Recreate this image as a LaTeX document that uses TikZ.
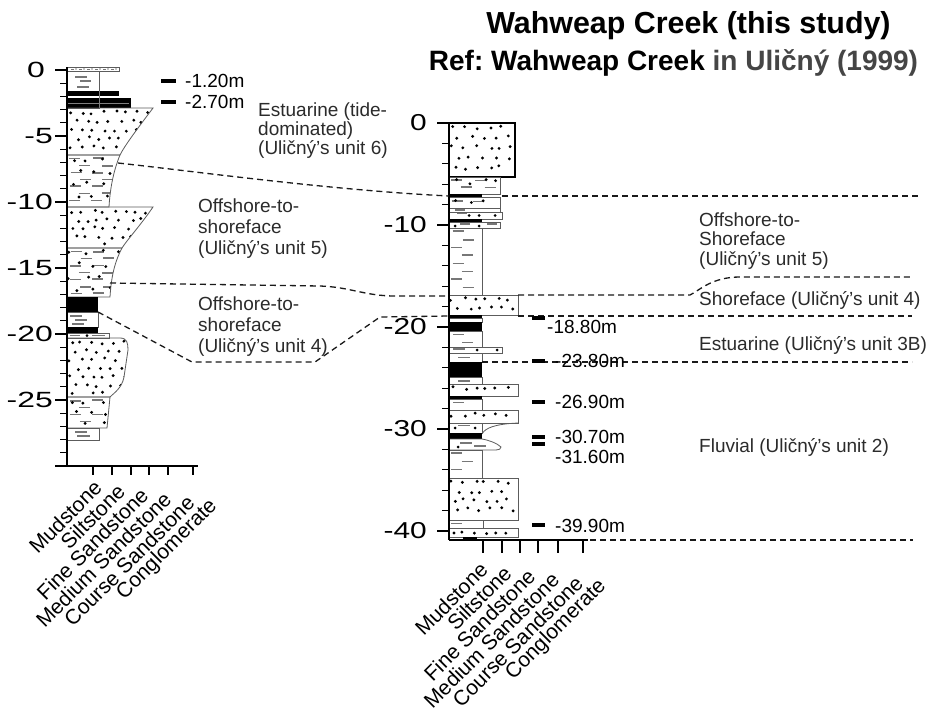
\documentclass[tikz,border=0pt]{standalone}
\usepackage{fontspec}
\setmainfont{Liberation Sans}
\usetikzlibrary{calc}
\frenchspacing

\definecolor{ink}{HTML}{1A1A1A}
\definecolor{edge}{HTML}{5C5C5C}
\definecolor{siltgray}{HTML}{777777}
\definecolor{labelgray}{HTML}{2B2B2B}
\definecolor{refgray}{HTML}{454545}

\tikzset{
  box/.style={draw=edge, line width=0.8pt},
  siltline/.style={draw=siltgray, line width=1.3pt},
  corr/.style={draw=ink, line width=1.3pt, dash pattern=on 6pt off 4pt},
  axisline/.style={draw=black, line width=1.3pt},
  marker/.style={draw=black, line width=3.2pt},
  unitlabel/.style={anchor=base west, inner sep=0pt, text=labelgray, font=\fontsize{19}{21}\selectfont},
  depthlabel/.style={anchor=base west, inner sep=0pt, text=black, font=\fontsize{19}{21}\selectfont},
  grain/.style={anchor=east, rotate=45, inner sep=0pt, text=black, font=\fontsize{21}{23}\selectfont},
  numleft/.style={inner sep=0pt, font=\fontsize{22}{24}\selectfont},
  numright/.style={inner sep=0pt, anchor=east, font=\fontsize{23}{25}\selectfont},
  titletext/.style={anchor=base, inner sep=0pt, font=\bfseries\fontsize{28}{32}\selectfont},
}

% jittered grid of sand grains inside x1 y1 x2 y2, spacing dx dy
\newcommand{\dotsin}[6]{%
  \pgfmathtruncatemacro\lnx{(#3-#1)/#5}%
  \pgfmathtruncatemacro\lny{(#4-#2)/#6}%
  \foreach \i in {0,...,\lnx}{\foreach \j in {0,...,\lny}{%
    \pgfmathsetmacro\lpx{#1+4+#5*\i+0.5*#5*mod(\j,2)+0.25*#5*rand}%
    \pgfmathsetmacro\lpy{#2+4.5+#6*\j+0.2*#6*rand}%
    \pgfmathtruncatemacro\lok{and(\lpx<#3-3,\lpy<#4-3)}%
    \ifnum\lok=1 \fill[black] (\lpx,\lpy) circle (1.6pt);\fi
  }}}

% short grey silt dashes inside x1 y1 x2 y2, spacing dx dy
\newcommand{\dashesin}[6]{%
  \pgfmathtruncatemacro\lnx{(#3-#1)/#5}%
  \pgfmathtruncatemacro\lny{(#4-#2)/#6}%
  \foreach \i in {0,...,\lnx}{\foreach \j in {0,...,\lny}{%
    \pgfmathsetmacro\lpx{#1+3+#5*\i+0.45*#5*mod(\j,2)+1.5*rand}%
    \pgfmathsetmacro\lpy{#2+3.5+#6*\j+0.6*rand}%
    \pgfmathtruncatemacro\lok{and(\lpx+10<#3-2,\lpy<#4-2.5)}%
    \ifnum\lok=1 \draw[siltline] (\lpx,\lpy) -- ++(11,0);\fi
  }}}

% rectangular beds
\newcommand{\bedsand}[4]{%
  \begin{scope}\clip (#1,#2) rectangle (#3,#4);\dotsin{#1}{#2}{#3}{#4}{11}{9}\end{scope}%
  \draw[box] (#1,#2) rectangle (#3,#4);}
\newcommand{\bedsilt}[4]{%
  \begin{scope}\clip (#1,#2) rectangle (#3,#4);\dashesin{#1}{#2}{#3}{#4}{22}{8}\end{scope}%
  \draw[box] (#1,#2) rectangle (#3,#4);}
\newcommand{\bedmix}[4]{%
  \begin{scope}\clip (#1,#2) rectangle (#3,#4);\dashesin{#1}{#2}{#3}{#4}{22}{7}\dotsin{#1}{#2}{#3}{#4}{15}{12}\end{scope}%
  \draw[box] (#1,#2) rectangle (#3,#4);}
\newcommand{\bedmud}[4]{\fill[black] (#1,#2) rectangle (#3,#4);}

\begin{document}
\begin{tikzpicture}[x=1pt,y=-1pt]
\useasboundingbox (0,0) rectangle (932,720);
\fill[white] (0,0) rectangle (932,720);
\pgfmathsetseed{7}

% ---------- titles ----------
\node[titletext, font=\bfseries\fontsize{30.4}{34}\selectfont] (title1) at (688.5,33) {Wahweap Creek (this study)};
\node[titletext] (title2) at (673.5,70) {Ref: Wahweap Creek \textcolor{refgray}{in Uličný (1999)}};

% ================= left section =================
% thin breccia cap
\draw[box] (67,67) rectangle (119,71);
\foreach \x in {71,79,...,115} {\draw[siltgray, line width=0.8pt] (\x,69) -- ++(3,0); \fill[black] (\x+5,69) circle (0.6pt);}
% silt with coal streaks
\draw[siltline] (75,77) -- (87,77);
\draw[siltline] (80,81) -- (91,81);
\draw[siltline] (77,87) -- (89,87);
\draw[box] (67,71) rectangle (99,108);
\bedmud{67}{91}{119}{96}
\bedmud{67}{98}{131}{108}
\draw[gray, line width=0.6pt] (68,103) -- (129,103);
\draw[gray, line width=0.5pt] (99,91) -- (99,108);
% fining-upward sand
\begin{scope}\clip (67,108) -- (153,108) .. controls (138,128) and (125,145) .. (120,155) -- (67,155) -- cycle;
  \dotsin{67}{108}{153}{155}{11}{8.5}\end{scope}
\draw[box] (67,108) -- (153,108) .. controls (138,128) and (125,145) .. (120,155) -- (67,155) -- cycle;
% heterolithic
\begin{scope}\clip (67,155) -- (120,155) .. controls (113,172) and (110,190) .. (109,207) -- (67,207) -- cycle;
  \dashesin{67}{155}{120}{207}{22}{7}\dotsin{67}{155}{120}{207}{15}{12}\end{scope}
\draw[box] (67,155) -- (120,155) .. controls (113,172) and (110,190) .. (109,207) -- (67,207) -- cycle;
% sand
\begin{scope}\clip (67,207) -- (153,207) .. controls (140,226) and (127,240) .. (122,248) -- (67,248) -- cycle;
  \dotsin{67}{207}{153}{248}{11}{8.5}\end{scope}
\draw[box] (67,207) -- (153,207) .. controls (140,226) and (127,240) .. (122,248) -- (67,248) -- cycle;
% heterolithic
\begin{scope}\clip (67,248) -- (122,248) .. controls (113,265) and (111,282) .. (110,297) -- (67,297) -- cycle;
  \dashesin{67}{248}{122}{297}{22}{7}\dotsin{67}{248}{122}{297}{15}{12}\end{scope}
\draw[box] (67,248) -- (122,248) .. controls (113,265) and (111,282) .. (110,297) -- (67,297) -- cycle;
% mud and silt
\bedmud{67}{297}{98}{312}
\draw[siltline] (70,316) -- (82,316);
\draw[siltline] (75,320) -- (87,320);
\draw[siltline] (72,324) -- (84,324);
\draw[box] (67,312) rectangle (98,327);
\bedmud{67}{327}{98}{333}
\draw[siltline] (70,335.5) -- (80,335.5);
\draw[siltline] (92,335.5) -- (105,335.5);
\fill (87,335.5) circle (1.5pt);
\draw[box] (67,333) rectangle (109,338);
% bulging sand
\begin{scope}\clip (67,338) -- (120,338) .. controls (127,338) and (128,343) .. (128,350) -- (124,377) .. controls (122,388) and (114,393) .. (110,397) -- (67,397) -- cycle;
  \dotsin{67}{338}{128}{397}{11}{8.5}\end{scope}
\draw[box] (67,338) -- (120,338) .. controls (127,338) and (128,343) .. (128,350) -- (124,377) .. controls (122,388) and (114,393) .. (110,397) -- (67,397) -- cycle;
% heterolithic
\begin{scope}\clip (67,397) -- (110,397) -- (107,428) -- (67,428) -- cycle;
  \dashesin{67}{397}{110}{428}{22}{7}\dotsin{67}{397}{110}{428}{15}{11}\end{scope}
\draw[box] (67,397) -- (110,397) -- (107,428) -- (67,428) -- cycle;
\draw[siltline] (75,432) -- (87,432);
\draw[siltline] (77,436) -- (90,436);
\draw[box] (67,428) rectangle (99,440);

% left axis and scale
\draw[axisline] (67,67) -- (67,466);
\foreach \d in {0,...,29} \draw[axisline] (60,{70+13.2*\d}) -- (67,{70+13.2*\d});
\foreach \d in {0,5,...,25} \draw[axisline] (55,{70+13.2*\d}) -- (67,{70+13.2*\d});
\draw[axisline] (55,466) -- (198,466);
\foreach \x in {93,112,131,149,168,193} \draw[axisline] (\x,466) -- (\x,475);
\node[numleft] (lz) at (36,70) {\scalebox{1.45}[1]{0}};
\foreach \d in {5,10,15,20,25} \node[numleft, anchor=east] (ln\d) at (53,{70+13.2*\d}) {\scalebox{1.45}[1]{-\d}};
\foreach \t [count=\k from 0] in {Mudstone,Siltstone,Fine Sandstone,Medium Sandstone,Course Sandstone,Conglomerate}
  \node[grain] (gl\k) at ({98+23.2*\k},{484+3.8*\k}) {\t};

% ================= right section =================
\begin{scope}\clip (449,123) rectangle (515,177);\dotsin{449}{123}{515}{177}{12}{10}\end{scope}
\draw[black, line width=1.5pt] (449,123) rectangle (515,177);
\bedmix{449}{177}{500}{194}
\bedmud{449}{194}{482}{197.5}
\bedmix{449}{197.5}{500}{208}
\draw[siltline] (455,210) -- (465,210);
\draw[box] (449,208) rectangle (500,212);
\draw[siltline] (457,213.5) -- (467,213.5);
\foreach \x in {469,479,495} \fill (\x,215.5) circle (1.5pt);
\draw[box] (449,212) rectangle (502,219);
\bedmud{449}{219}{482}{221.5}
\draw[siltline] (460,224) -- (470,224);
\draw[siltline] (487,224) -- (497,224);
\foreach \x in {455,479} \fill (\x,226) circle (1.5pt);
\draw[box] (449,222) rectangle (500,228);
\bedsilt{449}{228}{482}{295}
\bedsand{449}{295}{518}{315}
\bedmud{449}{315}{482}{318}
\draw[box] (449,318) rectangle (482,322);
\bedmud{449}{322}{482}{331}
\bedsilt{449}{331}{482}{347}
\draw[siltline] (453,349) -- (465,349);
\foreach \x in {477,497} \fill (\x,350) circle (1.5pt);
\draw[box] (449,347) rectangle (502,353);
\draw[siltline] (458,357.5) -- (470,357.5);
\draw[box] (449,353) rectangle (482,362);
\bedmud{449}{362}{482}{377}
\draw[siltline] (458,381) -- (470,381);
\draw[box] (449,377) rectangle (482,384);
\bedsand{449}{384}{518}{396}
\bedmud{449}{396}{482}{399}
\bedsilt{449}{399}{482}{410}
\bedsand{449}{410}{518}{423}
% channel-base flare and heterolithic lens
\draw[siltline] (458,425.5) -- (470,425.5);
\foreach \x in {455,475} \fill (\x,428) circle (1.5pt);
\draw[box] (449,423) rectangle (482,433);
\draw[box] (518,423) .. controls (495,424) and (485,428) .. (482,434);
\bedmud{449}{433}{482}{439}
\draw[siltline] (460,443) -- (472,443);
\draw[siltline] (474,446) -- (486,446);
\fill (458,447) circle (1.5pt);
\draw[box] (449,439) -- (482,439) .. controls (488,440) and (497,443) .. (501,447) .. controls (501,449) and (499,450) .. (496,450) -- (449,450) -- cycle;
\bedsilt{449}{450}{482}{478}
\bedsand{449}{478}{518}{520}
\bedsilt{449}{520}{483}{528}
\bedsand{449}{528}{518}{537}
\bedmud{463}{537}{477}{539.5}

% right axis and scale
\draw[axisline] (449,123) -- (449,540);
\foreach \d in {0,2,...,40} \draw[axisline] (442,{123+10.2*\d}) -- (449,{123+10.2*\d});
\foreach \d in {0,10,20,30,40} \draw[axisline] (437,{123+10.2*\d}) -- (449,{123+10.2*\d});
\draw[axisline] (449,540) -- (588,540);
\foreach \x in {483,502,520,538,558,583} \draw[axisline] (\x,540) -- (\x,553);
\node[numright] (rz) at (427,123) {\scalebox{1.3}[1]{0}};
\foreach \d in {10,20,30,40} \node[numright] (rn\d) at (427,{123+10.2*\d}) {\scalebox{1.3}[1]{-\d}};
\foreach \t [count=\k from 0] in {Mudstone,Siltstone,Fine Sandstone,Medium Sandstone,Course Sandstone,Conglomerate}
  \node[grain] (gr\k) at ({484+23.8*\k},{566+3.4*\k}) {\t};

% ================= correlation lines =================
\coordinate (a1) at (118,163);
\coordinate (b1) at (449,196);
\draw[corr] (a1) .. controls (200,172) and (330,190) .. (b1);
\draw[corr] (502,196) -- (918,196);

\coordinate (a2) at (110,283);
\draw[corr] (a2) -- (320,286) .. controls (350,287) and (365,296) .. (395,296) -- (449,296);
\draw[corr] (518,295) -- (690,295) .. controls (700,290) and (712,277) .. (740,277) -- (912,277);

\coordinate (a3) at (98,312);
\draw[corr] (a3) -- (192,362) -- (315,362) -- (380,317) -- (449,316);
\draw[corr] (518,316) -- (912,316);

\draw[corr] (482,362) -- (912,362);
\draw[corr] (590,540) -- (913,540);

% ================= depth markers =================
\draw[marker] (161,81) -- (176,81);
\draw[marker] (161,102) -- (176,102);
\node[depthlabel] (d120) at (185,87) {-1.20m};
\node[depthlabel] (d270) at (185,108) {-2.70m};

\draw[marker] (532,318) -- (545,318);
\draw[marker] (532,361) -- (545,361);
\draw[marker] (532,402) -- (545,402);
\draw[marker] (532,437) -- (545,437);
\draw[marker] (532,444) -- (545,444);
\draw[marker] (532,525) -- (545,525);
\node[depthlabel] (d1880) at (547,333) {-18.80m};
\node[depthlabel] (d2380) at (555,367) {-23.80m};
\node[depthlabel] (d2690) at (555,408) {-26.90m};
\node[depthlabel] (d3070) at (555,443) {-30.70m};
\node[depthlabel] (d3160) at (555,463) {-31.60m};
\node[depthlabel] (d3990) at (555,532) {-39.90m};

% ================= facies labels =================
\node[unitlabel] (u6a) at (258,116) {Estuarine (tide-};
\node[unitlabel] (u6b) at (258,135) {dominated)};
\node[unitlabel] (u6c) at (258,154) {(Uličný’s unit 6)};
\node[unitlabel] (u5a) at (198,212) {Offshore-to-};
\node[unitlabel] (u5b) at (198,233) {shoreface};
\node[unitlabel] (u5c) at (198,254) {(Uličný’s unit 5)};
\node[unitlabel] (u4a) at (198,310) {Offshore-to-};
\node[unitlabel] (u4b) at (198,331) {shoreface};
\node[unitlabel] (u4c) at (198,352) {(Uličný’s unit 4)};

\node[unitlabel] (r5a) at (699,226) {Offshore-to-};
\node[unitlabel] (r5b) at (699,245) {Shoreface};
\node[unitlabel] (r5c) at (699,265) {(Uličný’s unit 5)};
\node[unitlabel] (r4) at (699,305) {Shoreface (Uličný’s unit 4)};
\node[unitlabel] (r3) at (699,350) {Estuarine (Uličný’s unit 3B)};
\node[unitlabel] (r2) at (699,452) {Fluvial (Uličný’s unit 2)};
\end{tikzpicture}
\end{document}
